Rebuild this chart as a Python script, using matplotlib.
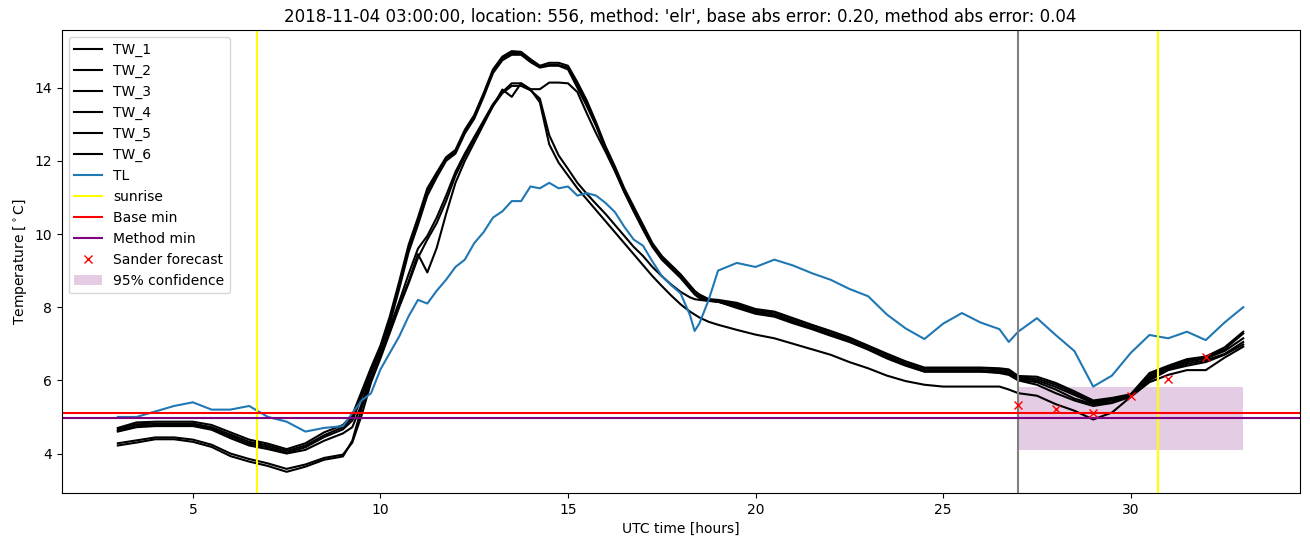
import matplotlib
matplotlib.use("Agg")
import matplotlib.pyplot as plt

hours = [3.0, 3.5, 4.0, 4.5, 5.0, 5.5, 6.0, 6.5, 7.0, 7.5, 8.0, 8.5, 9.0,
         9.25, 9.5, 9.75, 10.0, 10.25, 10.5, 10.75, 11.0, 11.25, 11.5, 11.75, 12.0,
         12.25, 12.5, 12.75, 13.0, 13.25, 13.5, 13.75, 14.0, 14.25, 14.5, 14.75, 15.0,
         15.25, 15.5, 15.75, 16.0, 16.25, 16.5, 16.75, 17.0, 17.25, 17.5, 17.75, 18.0,
         18.25, 18.375, 18.5, 18.75, 19.0,
         19.5, 20.0, 20.5, 21.0, 21.5, 22.0, 22.5, 23.0, 23.5, 24.0, 24.5, 25.0,
         25.5, 26.0, 26.5, 26.75, 27.0, 27.5, 28.0, 28.5, 29.0, 29.5, 30.0, 30.5,
         31.0, 31.5, 32.0, 32.5, 33.0]

tw_1 = [4.70, 4.85, 4.87, 4.87, 4.87, 4.78, 4.58, 4.38, 4.27, 4.12, 4.28, 4.58, 4.78,
        5.05, 5.7, 6.35, 6.95, 7.75, 8.7, 9.7, 10.45, 11.25, 11.68, 12.1, 12.3,
        12.85, 13.25, 13.85, 14.5, 14.85, 15.0, 14.98, 14.78, 14.6, 14.68, 14.68, 14.6,
        14.15, 13.65, 13.05, 12.4, 11.85, 11.25, 10.75, 10.25, 9.75, 9.4, 9.15, 8.9,
        8.6, 8.45, 8.35, 8.22, 8.2,
        8.12, 7.95, 7.88, 7.7, 7.52, 7.35, 7.17, 6.95, 6.73, 6.52, 6.35, 6.35,
        6.35, 6.35, 6.33, 6.3, 6.12, 6.1, 5.93, 5.7, 5.45, 5.52, 5.62, 6.2,
        6.4, 6.58, 6.65, 6.9, 7.33]

tw_2 = [4.66, 4.80, 4.82, 4.82, 4.82, 4.72, 4.52, 4.32, 4.22, 4.07, 4.22, 4.5, 4.72,
        4.98, 5.62, 6.28, 6.88, 7.65, 8.6, 9.6, 10.35, 11.15, 11.62, 12.05, 12.25,
        12.8, 13.2, 13.8, 14.45, 14.8, 14.95, 14.95, 14.72, 14.58, 14.62, 14.62, 14.55,
        14.08, 13.58, 13.0, 12.35, 11.8, 11.2, 10.7, 10.2, 9.72, 9.37, 9.12, 8.87,
        8.57, 8.42, 8.32, 8.2, 8.18,
        8.08, 7.92, 7.85, 7.68, 7.5, 7.33, 7.15, 6.93, 6.7, 6.5, 6.33, 6.33,
        6.33, 6.33, 6.3, 6.27, 6.08, 6.05, 5.88, 5.65, 5.42, 5.48, 5.6, 6.15,
        6.37, 6.55, 6.62, 6.85, 7.28]

tw_3 = [4.62, 4.75, 4.78, 4.78, 4.78, 4.68, 4.47, 4.27, 4.17, 4.02, 4.17, 4.45, 4.66,
        4.9, 5.55, 6.2, 6.8, 7.55, 8.5, 9.5, 10.25, 11.05, 11.55, 12.0, 12.2,
        12.75, 13.15, 13.75, 14.4, 14.75, 14.9, 14.9, 14.7, 14.55, 14.6, 14.6, 14.5,
        14.0, 13.5, 12.95, 12.3, 11.75, 11.15, 10.65, 10.15, 9.68, 9.33, 9.08, 8.83,
        8.53, 8.38, 8.28, 8.18, 8.15,
        8.05, 7.88, 7.8, 7.63, 7.45, 7.28, 7.1, 6.88, 6.65, 6.45, 6.28, 6.28,
        6.28, 6.28, 6.26, 6.22, 6.05, 6.0, 5.82, 5.6, 5.38, 5.45, 5.58, 6.1,
        6.33, 6.5, 6.6, 6.8, 7.15]

tw_4 = [4.6, 4.72, 4.75, 4.75, 4.75, 4.65, 4.42, 4.22, 4.12, 4.0, 4.1, 4.35, 4.55,
        4.72, 5.35, 6.2, 6.85, 7.45, 8.15, 8.9, 9.6, 9.95, 10.45, 11.05, 11.7,
        12.2, 12.65, 13.1, 13.55, 13.88, 14.12, 14.12, 13.96, 13.96, 14.14, 14.14, 14.12,
        13.88, 13.3, 12.75, 12.25, 11.72, 11.15, 10.62, 10.12, 9.65, 9.3, 9.05, 8.8,
        8.5, 8.35, 8.25, 8.18, 8.15,
        8.0, 7.85, 7.78, 7.6, 7.43, 7.25, 7.08, 6.86, 6.62, 6.42, 6.24, 6.24,
        6.24, 6.24, 6.22, 6.18, 6.02, 5.95, 5.75, 5.5, 5.35, 5.4, 5.58, 6.05,
        6.3, 6.45, 6.55, 6.72, 7.05]

tw_5 = [4.22, 4.3, 4.39, 4.39, 4.32, 4.18, 3.93, 3.78, 3.66, 3.5, 3.64, 3.83, 3.92,
        4.35, 5.25, 6.05, 6.7, 7.35, 8.05, 8.7, 9.45, 8.95, 9.62, 10.55, 11.4,
        12.0, 12.5, 13.0, 13.5, 13.95, 13.75, 14.12, 13.95, 13.6, 12.45, 11.95, 11.6,
        11.25, 10.95, 10.65, 10.35, 10.05, 9.75, 9.45, 9.15, 8.85, 8.58, 8.32, 8.08,
        7.88, 7.8, 7.72, 7.6, 7.52,
        7.38, 7.25, 7.15, 7.0, 6.85, 6.7, 6.5, 6.33, 6.13, 5.98, 5.88, 5.83,
        5.83, 5.83, 5.83, 5.75, 5.65, 5.58, 5.35, 5.17, 4.93, 5.12, 5.55, 5.95,
        6.15, 6.28, 6.28, 6.62, 6.92]

tw_6 = [4.28, 4.36, 4.44, 4.44, 4.38, 4.24, 4.0, 3.85, 3.73, 3.58, 3.7, 3.88, 3.97,
        4.3, 5.05, 5.95, 6.6, 7.3, 8.0, 8.65, 9.35, 9.85, 10.3, 10.9, 11.6,
        12.12, 12.6, 13.05, 13.5, 13.85, 14.05, 14.05, 13.93, 13.7, 12.7, 12.15, 11.78,
        11.4, 11.1, 10.82, 10.55, 10.25, 9.95, 9.65, 9.4, 9.1, 8.85, 8.62, 8.42,
        8.27, 8.22, 8.2, 8.17, 8.15,
        7.98, 7.82, 7.74, 7.56, 7.4, 7.22, 7.05, 6.84, 6.6, 6.4, 6.24, 6.24,
        6.24, 6.24, 6.2, 6.15, 6.0, 5.88, 5.65, 5.45, 5.3, 5.38, 5.55, 6.0,
        6.28, 6.4, 6.5, 6.7, 6.98]

tl = [5.0, 5.0, 5.15, 5.3, 5.4, 5.2, 5.2, 5.3, 5.0, 4.87, 4.6, 4.7, 4.75,
      5.1, 5.45, 5.65, 6.3, 6.75, 7.2, 7.75, 8.2, 8.1, 8.45, 8.75, 9.1,
      9.3, 9.75, 10.05, 10.45, 10.62, 10.9, 10.9, 11.3, 11.25, 11.4, 11.25, 11.3,
      11.05, 11.12, 11.05, 10.85, 10.6, 10.2, 9.85, 9.68, 9.25, 8.85, 8.6, 8.38,
      7.79, 7.35, 7.55, 8.2, 9.0,
      9.21, 9.1, 9.3, 9.14, 8.93, 8.75, 8.5, 8.3, 7.8, 7.42, 7.13, 7.55,
      7.84, 7.58, 7.4, 7.05, 7.33, 7.7, 7.24, 6.8, 5.83, 6.13, 6.75, 7.24,
      7.15, 7.33, 7.1, 7.58, 8.0]

tw_series = [("TW_1", tw_1), ("TW_2", tw_2), ("TW_3", tw_3),
             ("TW_4", tw_4), ("TW_5", tw_5), ("TW_6", tw_6)]

sunrise_hours = [6.72, 30.72]
forecast_start = 27.0
base_min = 5.12
method_min = 4.96
sander_hours = [27, 28, 29, 30, 31, 32]
sander_values = [5.32, 5.23, 5.11, 5.57, 6.05, 6.63]
conf_hours = [27, 33]
conf_low = 4.09
conf_high = 5.83

title = ("2018-11-04 03:00:00, location: 556, method: 'elr', "
         "base abs error: 0.20, method abs error: 0.04")

fig, ax = plt.subplots(figsize=(13.1, 5.47), dpi=100)
fig.subplots_adjust(left=0.047, right=0.992, top=0.945, bottom=0.099)

for name, vals in tw_series:
    ax.plot(hours, vals, color="black", label=name)
ax.plot(hours, tl, color="tab:blue", label="TL")

for i, s in enumerate(sunrise_hours):
    ax.axvline(s, color="yellow", label="sunrise" if i == 0 else None)
ax.axvline(forecast_start, color="grey")
ax.axhline(base_min, color="red", label="Base min")
ax.axhline(method_min, color="purple", label="Method min")
ax.plot(sander_hours, sander_values, "x", color="red", label="Sander forecast")
ax.fill_between(conf_hours, [conf_low] * 2, [conf_high] * 2,
                color="purple", alpha=0.2, linewidth=0, label="95% confidence")

ax.set_title(title)
ax.set_xlabel("UTC time [hours]")
ax.set_ylabel(r"Temperature [$^\circ$C]")
ax.legend(loc="upper left")

fig.savefig("out.png", dpi=100)
